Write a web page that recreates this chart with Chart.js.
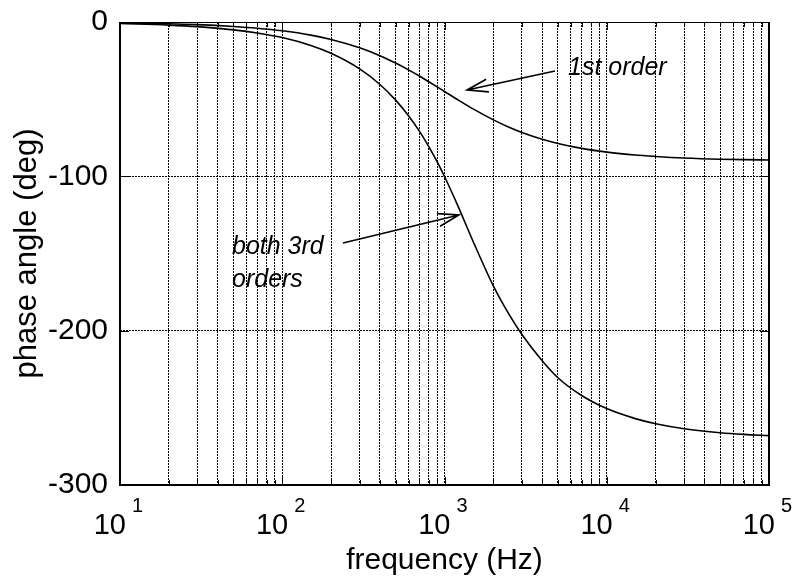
<!DOCTYPE html>
<html>
<head>
<meta charset="utf-8">
<script src="https://cdn.jsdelivr.net/npm/chart.js@4.4.0/dist/chart.umd.min.js"></script>
<style>
  html, body { margin: 0; padding: 0; background: #fff; }
</style>
</head>
<body>
<canvas id="chartPhase" width="796" height="579"></canvas>
<script>
// values
const freqs = [10, 20, 30, 50, 70, 100, 150, 200, 300, 400, 500, 600, 700, 800, 900, 1000,
  1200, 1500, 2000, 2500, 3000, 4000, 5000, 7000, 10000, 15000, 20000, 30000, 50000, 70000, 100000];
const firstOrder = [-0.6, -1.1, -1.7, -2.9, -4.0, -5.7, -8.5, -11.3, -16.7, -21.8, -26.6, -31.0, -35.0, -38.7, -42.0, -45.0,
  -50.2, -56.3, -63.4, -68.2, -71.6, -76.0, -78.7, -81.9, -84.3, -86.2, -87.1, -88.1, -88.9, -89.2, -89.4];
const thirdOrder = [-1.0, -2.0, -3.0, -5.1, -7.1, -10.1, -15.2, -20.3, -30.4, -40.5, -50.6, -60.7, -70.7, -80.7, -90.5, -100.1,
  -118.3, -142.1, -171.0, -189.5, -202.5, -219.5, -230.5, -242.0, -250.5, -257.0, -260.3, -263.5, -266.1, -267.2, -268.0];
const decades = [10, 100, 1000, 10000, 100000];
const decadeExp = ['1', '2', '3', '4', '5'];
const yTicks = [0, -100, -200, -300];

const FONT = "'Liberation Sans', Arial, sans-serif";

function toPoints(ys) {
  return freqs.map((f, i) => ({ x: f, y: ys[i] }));
}

// all 1..9 x 10^k positions for the log grid
function logTicks() {
  let out = [];
  for (let k = 1; k < 5; k++) {
    for (let m = 1; m < 10; m++) out.push({ value: m * Math.pow(10, k) });
  }
  out.push({ value: 100000 });
  return out;
}

const notes = [
  { lines: ['1st order'], x: 568, y: 68, from: [555, 71], to: [467, 90] },
  { lines: ['both 3rd', 'orders'], x: 232, y: 247, from: [343, 243], to: [459, 215] }
];

const decor = {
  id: 'decor',
  afterDraw(chart) {
    const ctx = chart.ctx;
    const a = chart.chartArea;
    const xs = chart.scales.x, ys = chart.scales.y;
    ctx.save();
    ctx.strokeStyle = '#000';
    ctx.fillStyle = '#000';

    // inward tick marks
    ctx.lineWidth = 1;
    ctx.beginPath();
    xs.ticks.forEach(t => {
      const px = Math.round(xs.getPixelForValue(t.value)) + 0.5;
      const major = decades.includes(t.value);
      const len = major ? 8 : 5;
      ctx.moveTo(px, a.bottom); ctx.lineTo(px, a.bottom - len);
      ctx.moveTo(px, a.top); ctx.lineTo(px, a.top + len);
    });
    yTicks.forEach(v => {
      const py = Math.round(ys.getPixelForValue(v)) + 0.5;
      ctx.moveTo(a.left, py); ctx.lineTo(a.left + 9, py);
      ctx.moveTo(a.right, py); ctx.lineTo(a.right - 9, py);
    });
    ctx.stroke();

    // frame
    ctx.lineWidth = 2;
    ctx.beginPath();
    ctx.moveTo(a.left, a.top); ctx.lineTo(a.left, a.bottom); ctx.lineTo(a.right, a.bottom); ctx.lineTo(a.right, a.top);
    ctx.stroke();
    ctx.lineWidth = 1;
    ctx.beginPath();
    ctx.moveTo(a.left, a.top + 0.5); ctx.lineTo(a.right, a.top + 0.5);
    ctx.stroke();

    // x tick labels 10^n
    decades.forEach((d, i) => {
      const px = xs.getPixelForValue(d);
      ctx.font = '29px ' + FONT;
      ctx.textAlign = 'right';
      ctx.textBaseline = 'alphabetic';
      ctx.fillText('10', px + 6, 534);
      ctx.font = '20px ' + FONT;
      ctx.textAlign = 'left';
      ctx.fillText(decadeExp[i], px + 12, 512);
    });

    // annotations
    ctx.font = 'italic 25px ' + FONT;
    ctx.textAlign = 'left';
    ctx.textBaseline = 'middle';
    notes.forEach(n => {
      n.lines.forEach((s, j) => ctx.fillText(s, n.x, n.y + j * 33));
      ctx.lineWidth = 1.6;
      ctx.beginPath();
      ctx.moveTo(n.from[0], n.from[1]);
      ctx.lineTo(n.to[0], n.to[1]);
      const ang = Math.atan2(n.from[1] - n.to[1], n.from[0] - n.to[0]);
      const hl = 22, ha = 0.3;
      ctx.moveTo(n.to[0] + hl * Math.cos(ang + ha), n.to[1] + hl * Math.sin(ang + ha));
      ctx.lineTo(n.to[0], n.to[1]);
      ctx.lineTo(n.to[0] + hl * Math.cos(ang - ha), n.to[1] + hl * Math.sin(ang - ha));
      ctx.stroke();
    });
    ctx.restore();
  }
};

const config = {
  type: 'line',
  data: {
    datasets: [
      { label: '1st order', data: toPoints(firstOrder) },
      { label: '3rd order', data: toPoints(thirdOrder) }
    ]
  },
  options: {
    responsive: false,
    animation: false,
    events: [],
    layout: { padding: { top: 22, right: 27, left: 0, bottom: 0 } },
    elements: {
      point: { radius: 0 },
      line: { borderColor: '#000', borderWidth: 1.6, cubicInterpolationMode: 'monotone', fill: false }
    },
    plugins: { legend: { display: false }, tooltip: { enabled: false } },
    scales: {
      x: {
        type: 'logarithmic',
        min: 10,
        max: 100000,
        afterBuildTicks: (s) => { s.ticks = logTicks(); },
        afterFit: (s) => { s.height = 94; s.paddingLeft = 0; s.paddingRight = 0; },
        ticks: { display: false },
        grid: { color: '#000', lineWidth: 1, drawTicks: false },
        border: { display: false, dash: [2, 1] },
        title: { display: true, text: 'frequency (Hz)', color: '#000', font: { family: FONT, size: 30, lineHeight: 1.2 }, padding: 0 }
      },
      y: {
        min: -300,
        max: 0,
        afterBuildTicks: (s) => { s.ticks = yTicks.map(v => ({ value: v })); },
        afterFit: (s) => { s.width = 120; s.paddingTop = 0; s.paddingBottom = 0; },
        ticks: { color: '#000', font: { family: FONT, size: 30 }, padding: 12 },
        grid: { color: '#000', lineWidth: 1, drawTicks: false },
        border: { display: false, dash: [2, 1] },
        title: { display: true, text: 'phase angle (deg)', color: '#000', font: { family: FONT, size: 31, lineHeight: 1.2 }, padding: { top: 9, bottom: 0 } }
      }
    }
  },
  plugins: [decor]
};

const chartPhase = new Chart(document.getElementById('chartPhase'), config);
</script>
</body>
</html>
